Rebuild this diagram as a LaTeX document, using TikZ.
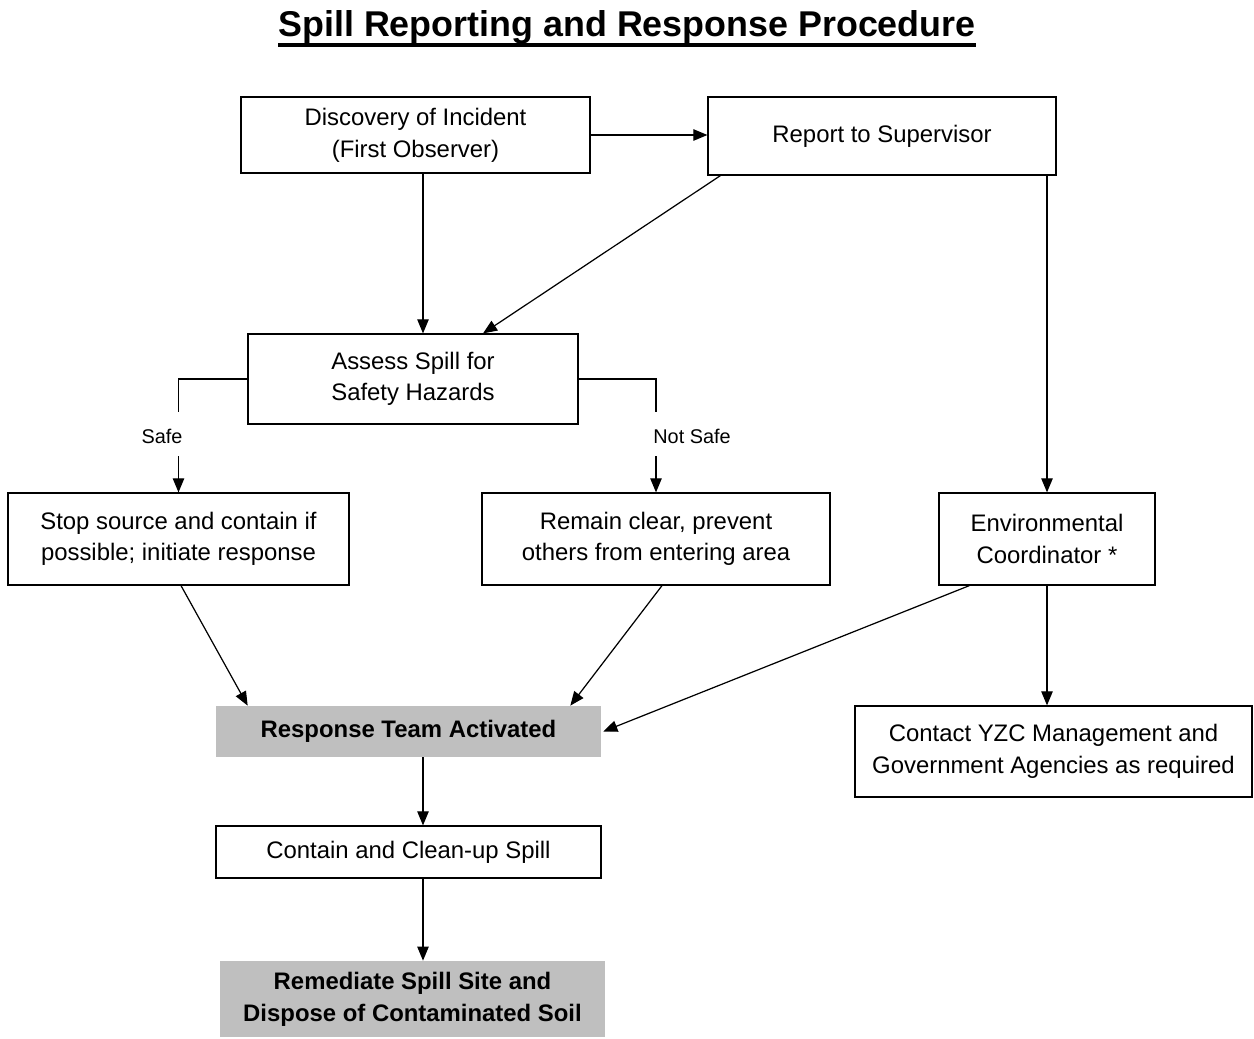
\documentclass[tikz,border=0pt]{standalone}
\usepackage{fontspec}
\setmainfont{Liberation Sans}
\usetikzlibrary{arrows.meta}
\begin{document}
\begin{tikzpicture}[x=0.02cm,y=-0.02cm,
  box/.style={draw=black,line width=0.7pt,align=center,inner sep=0pt,font=\fontsize{13.6}{18}\selectfont},
  gbox/.style={fill=gray!50!white,draw=none,align=center,inner sep=0pt,font=\fontsize{13.6}{18}\selectfont\bfseries},
  arr/.style={line width=0.7pt,-{Triangle[length=8pt,width=6.5pt]}},
  ln/.style={line width=0.7pt},
  lbl/.style={font=\fontsize{11.3}{13}\selectfont,inner sep=0pt}]
\useasboundingbox (0,0) rectangle (1254,1038);
\node[anchor=base,inner sep=0pt,font=\fontsize{20.4}{24}\selectfont\bfseries] (title) at (627,36) {Spill Reporting and Response Procedure};
\draw[line width=2.2pt] ([yshift=-0.18cm]title.base west) -- ([yshift=-0.18cm]title.base east);
\node[box,minimum width=6.98cm,minimum height=1.52cm] (disc) at (415.5,135) {Discovery of Incident\\(First Observer)};
\node[box,minimum width=6.96cm,minimum height=1.56cm] (rep) at (882,136) {Report to Supervisor};
\node[box,minimum width=6.6cm,minimum height=1.8cm] (assess) at (413,379) {Assess Spill for\\Safety Hazards};
\node[box,minimum width=6.82cm,minimum height=1.84cm] (stop) at (178.5,539) {Stop source and contain if\\possible; initiate response};
\node[box,minimum width=6.96cm,minimum height=1.84cm] (remain) at (656,539) {Remain clear, prevent\\others from entering area};
\node[box,minimum width=4.32cm,minimum height=1.84cm] (env) at (1047,539) {Environmental\\Coordinator *};
\node[gbox,minimum width=7.7cm,minimum height=1.02cm] (resp) at (408.5,731.5) {Response Team Activated};
\node[box,minimum width=7.94cm,minimum height=1.82cm] (contact) at (1053.5,751.5) {Contact YZC Management and\\Government Agencies as required};
\node[box,minimum width=7.7cm,minimum height=1.04cm] (contain) at (408.5,852) {Contain and Clean-up Spill};
\node[gbox,minimum width=7.7cm,minimum height=1.52cm] (remed) at (412.5,999) {Remediate Spill Site and\\Dispose of Contaminated Soil};
\node[lbl] (safe) at (162,436) {Safe};
\node[lbl] (notsafe) at (692,436) {Not Safe};
% connectors
\draw[arr] (disc.east) -- (disc.east -| rep.west);
\draw[arr] ([xshift=0.15cm]disc.south) -- ([xshift=0.15cm]disc.south |- assess.north);
\draw[arr] ([xshift=0.26cm]rep.south west) -- ([xshift=1.4cm]assess.north);
\draw[arr] (env.north |- rep.south) -- (env.north);
\draw[ln] (assess.west) -| ([yshift=1.6cm]stop.north);
\draw[arr] ([yshift=0.72cm]stop.north) -- (stop.north);
\draw[ln] (assess.east) -| ([yshift=1.6cm]remain.north);
\draw[arr] ([yshift=0.72cm]remain.north) -- (remain.north);
\draw[arr] ([xshift=0.05cm]stop.south) -- ([xshift=0.64cm]resp.north west);
\draw[arr] ([xshift=0.12cm]remain.south) -- ([xshift=-0.62cm]resp.north east);
\draw[arr] ([xshift=0.62cm]env.south west) -- ([xshift=0.04cm]resp.east);
\draw[arr] (env.south) -- (env.south |- contact.north);
\draw[arr] ([xshift=0.29cm]resp.south) -- ([xshift=0.29cm]resp.south |- contain.north);
\draw[arr] ([xshift=0.29cm]contain.south) -- ([xshift=0.29cm]contain.south |- remed.north);
\end{tikzpicture}
\end{document}
